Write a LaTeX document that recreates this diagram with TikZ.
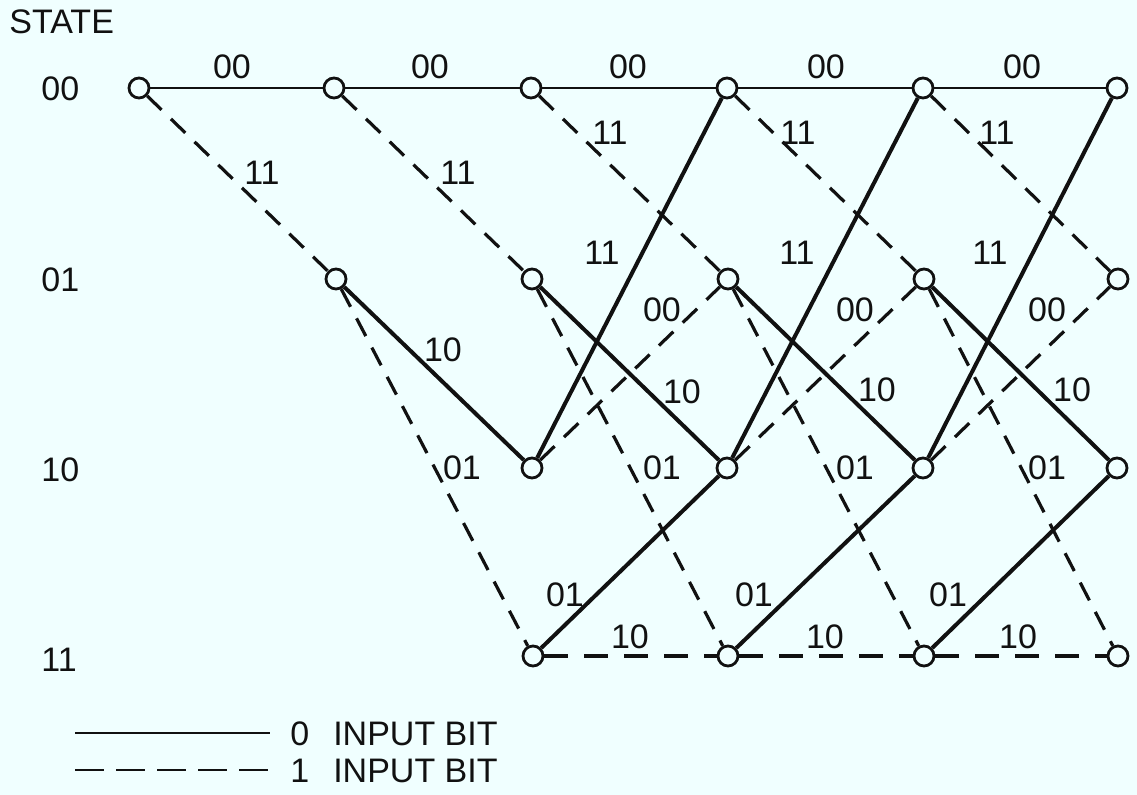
\documentclass[tikz,border=0pt]{standalone}
\usepackage{fontspec}
\setmainfont{Liberation Sans}
\definecolor{bg}{HTML}{F0FFFF}
\definecolor{ink}{HTML}{111111}
\tikzset{
  st/.style={circle,draw=ink,fill=bg,line width=1.4pt,minimum size=10pt,inner sep=0pt},
  lbl/.style={font=\fontsize{17}{19}\selectfont,text=ink,inner sep=0pt},
  zerotop/.style={draw=ink,line width=1.3pt},
  zero/.style={draw=ink,line width=2pt},
  one/.style={draw=ink,line width=1.6pt,dash pattern=on 10pt off 6.5pt},
  onebottom/.style={draw=ink,line width=1.6pt,dash pattern=on 12pt off 8pt},
  legzero/.style={draw=ink,line width=1.3pt},
  legone/.style={draw=ink,line width=1.4pt,dash pattern=on 14.5pt off 6pt}
}
\begin{document}
\begin{tikzpicture}[x=0.5pt,y=-0.5pt]
\fill[bg] (0,0) rectangle (1137,795);
\useasboundingbox (0,0) rectangle (1137,795);

% headings
\node[lbl,anchor=west] (state) at (9,22) {STATE};
\node[lbl,anchor=west] (r00) at (41,89) {00};
\node[lbl,anchor=west] (r01) at (41,280) {01};
\node[lbl,anchor=west] (r10) at (41,470) {10};
\node[lbl,anchor=west] (r11) at (41,660) {11};

% states
\foreach \i/\x in {0/139,1/334,2/531,3/727,4/923,5/1117}
  \node[st] (a\i) at (\x,88) {};
\foreach \i/\x in {1/336,2/532,3/728,4/924,5/1118}
  \node[st] (b\i) at (\x,279) {};
\foreach \i/\x in {2/532,3/727,4/923,5/1117}
  \node[st] (c\i) at (\x,468) {};
\foreach \i/\x in {2/533,3/728,4/924,5/1118}
  \node[st] (d\i) at (\x,656) {};

% transitions
\foreach \i/\j in {0/1,1/2,2/3,3/4,4/5}
  \draw[zerotop] (a\i) -- (a\j);
\foreach \i/\j in {0/1,1/2,2/3,3/4,4/5}
  \draw[one] (a\i) -- (b\j);
\foreach \i/\j in {1/2,2/3,3/4,4/5}
  \draw[zero] (b\i) -- (c\j);
\foreach \i/\j in {1/2,2/3,3/4,4/5}
  \draw[one] (b\i) -- (d\j);
\foreach \i/\j in {2/3,3/4,4/5}
  \draw[zero] (c\i) -- (a\j);
\foreach \i/\j in {2/3,3/4,4/5}
  \draw[one] (c\i) -- (b\j);
\foreach \i/\j in {2/3,3/4,4/5}
  \draw[zero] (d\i) -- (c\j);
\foreach \i/\j in {2/3,3/4,4/5}
  \draw[onebottom] (d\i) -- (d\j);

% labels: 00 -> 00
\foreach \k/\x in {1/232,2/430,3/628,4/826,5/1022}
  \node[lbl] (laa\k) at (\x,67) {00};
% labels: 00 -> 01
\foreach \k/\x/\y in {1/262/173,2/458/173,3/610/133,4/798/133,5/997/133}
  \node[lbl] (lab\k) at (\x,\y) {11};
% labels: 01 -> 10
\foreach \k/\x/\y in {1/443/350,2/682/392,3/877/390,4/1072/390}
  \node[lbl] (lbc\k) at (\x,\y) {10};
% labels: 01 -> 11
\foreach \k/\x in {1/462,2/662,3/855,4/1047}
  \node[lbl] (lbd\k) at (\x,468) {01};
% labels: 10 -> 00
\foreach \k/\x in {1/602,2/797,3/990}
  \node[lbl] (lca\k) at (\x,253) {11};
% labels: 10 -> 01
\foreach \k/\x in {1/662,2/855,3/1047}
  \node[lbl] (lcb\k) at (\x,310) {00};
% labels: 11 -> 10
\foreach \k/\x in {1/565,2/754,3/948}
  \node[lbl] (ldc\k) at (\x,595) {01};
% labels: 11 -> 11
\foreach \k/\x in {1/630,2/825,3/1018}
  \node[lbl] (ldd\k) at (\x,637) {10};

% legend
\coordinate (s0) at (75,733);
\coordinate (s1) at (270,733);
\coordinate (u0) at (75,770);
\coordinate (u1) at (270,770);
\draw[legzero] (s0) -- (s1);
\draw[legone] (u0) -- (u1);
\node[lbl,anchor=west] (leg0) at (290,734) {0\hspace{12pt}INPUT BIT};
\node[lbl,anchor=west] (leg1) at (290,771) {1\hspace{12pt}INPUT BIT};
\end{tikzpicture}
\end{document}
